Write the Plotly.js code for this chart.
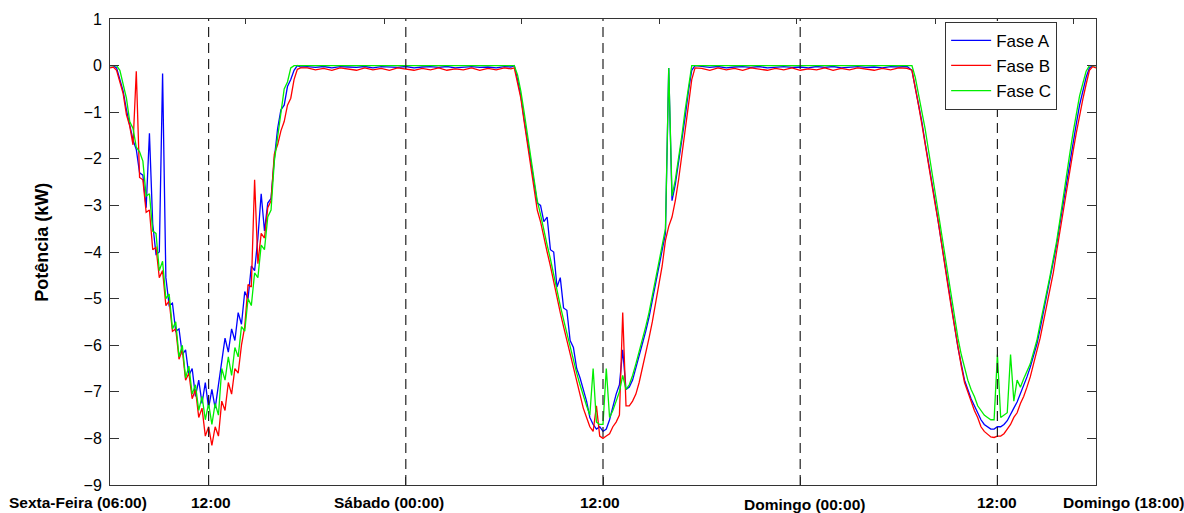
<!DOCTYPE html>
<html>
<head>
<meta charset="utf-8">
<script src="https://cdn.plot.ly/plotly-3.0.1.min.js"></script>
<style>html,body{margin:0;padding:0;background:#fff;}#chart{width:1184px;height:513px;}</style>
</head>
<body>
<div id="chart"></div>
<script>
// Hours since Friday 06:00
const hours = [
  // Friday daylight
  0.0,0.2,0.4,0.6,0.8,1.0,1.2,1.4,1.6,1.8,2.0,2.2,2.4,2.6,2.8,3.0,3.2,3.4,3.6,3.8,
  4.0,4.2,4.4,4.6,4.8,5.0,5.2,5.4,5.6,5.8,6.0,6.2,6.4,6.6,6.8,7.0,7.2,7.4,7.6,7.8,
  8.0,8.2,8.4,8.6,8.8,9.0,9.2,9.4,9.6,9.8,10.0,10.2,10.4,10.6,10.8,11.0,11.2,11.4,11.6,
  // Friday night
  12.0,12.5,13.0,13.5,14.0,14.5,15.0,15.5,16.0,16.5,17.0,17.5,18.0,18.5,19.0,19.5,
  20.0,20.5,21.0,21.5,22.0,22.5,23.0,23.5,24.0,24.4,
  // Saturday daylight
  24.6,24.8,25.0,25.2,25.4,25.6,25.8,26.0,26.2,26.4,26.6,26.8,27.0,27.2,27.4,27.6,27.8,
  28.0,28.2,28.4,28.6,28.8,29.0,29.2,29.4,29.6,29.8,30.0,30.2,30.4,30.6,30.8,31.0,31.2,
  31.4,31.6,31.8,32.0,32.2,32.4,32.6,32.8,33.0,33.2,33.4,33.6,33.8,34.0,34.2,34.4,34.6,
  34.8,35.0,35.2,35.4,35.6,
  // Saturday night
  36.0,36.5,37.0,37.5,38.0,38.5,39.0,39.5,40.0,40.5,41.0,41.5,42.0,42.5,43.0,43.5,
  44.0,44.5,45.0,45.5,46.0,46.5,47.0,47.5,48.0,48.5,
  // Sunday daylight
  48.8,49.0,49.2,49.4,49.6,49.8,50.0,50.2,50.4,50.6,50.8,51.0,51.2,51.4,51.6,51.8,52.0,
  52.2,52.4,52.6,52.8,53.0,53.2,53.4,53.6,53.8,54.0,54.2,54.4,54.6,54.8,55.0,55.2,55.4,
  55.6,55.8,56.0,56.2,56.4,56.6,56.8,57.0,57.2,57.4,57.6,57.8,58.0,58.2,58.4,58.6,58.8,
  59.0,59.2,59.4,59.6,59.8,60.0
];

const faseA = [
  0,0,-0.05,-0.3,-0.55,-0.95,-1.25,-1.6,-1.8,-2.3,-2.35,-3.05,-1.45,-3.4,-4.05,-4.0,-0.17,-4.55,-5.15,-5.1,
  -5.7,-5.65,-6.2,-6.1,-6.65,-6.5,-7.1,-6.75,-7.25,-6.8,-7.35,-6.95,-7.35,-6.85,-6.35,-5.85,-6.15,-5.65,-5.9,-5.3,
  -5.55,-4.85,-5.0,-4.3,-4.4,-3.7,-2.75,-3.55,-2.95,-2.85,-2.0,-1.35,-0.95,-0.85,-0.45,-0.3,-0.1,0,-0.03,
  -0.02,-0.04,-0.02,-0.05,-0.02,-0.03,-0.04,-0.02,-0.05,-0.02,-0.03,-0.04,-0.02,-0.05,-0.03,-0.02,
  -0.04,-0.02,-0.05,-0.03,-0.02,-0.04,-0.03,-0.05,-0.02,-0.03,
  0,-0.3,-0.65,-1.15,-1.6,-2.1,-2.6,-2.95,-3.0,-3.35,-3.25,-3.95,-4.0,-4.75,-4.55,-5.2,-5.25,
  -5.9,-6.05,-6.5,-6.7,-6.95,-7.2,-7.55,-7.7,-7.8,-7.75,-7.85,-7.8,-7.6,-7.3,-7.05,-6.85,-6.1,
  -6.95,-6.9,-6.75,-6.5,-6.25,-6.0,-5.7,-5.4,-5.05,-4.7,-4.3,-3.95,-3.6,-0.05,-2.9,-2.55,-2.1,
  -1.6,-1.1,-0.55,-0.1,0,
  -0.02,-0.04,-0.02,-0.05,-0.03,-0.02,-0.04,-0.02,-0.05,-0.03,-0.02,-0.04,-0.03,-0.05,-0.02,-0.04,
  -0.02,-0.05,-0.03,-0.02,-0.04,-0.03,-0.05,-0.02,-0.03,-0.02,
  -0.1,-0.45,-0.85,-1.2,-1.65,-2.05,-2.5,-2.9,-3.35,-3.8,-4.3,-4.7,-5.15,-5.6,-6.05,-6.4,-6.75,
  -6.95,-7.15,-7.3,-7.45,-7.6,-7.7,-7.75,-7.8,-7.8,-7.75,-7.75,-7.7,-7.62,-7.5,-7.35,-7.22,-7.05,
  -6.88,-6.68,-6.47,-6.22,-5.98,-5.65,-5.3,-4.95,-4.6,-4.25,-3.85,-3.4,-2.95,-2.5,-2.08,-1.65,-1.25,
  -0.85,-0.55,-0.25,-0.05,0,0
];

const faseB = [
  -0.05,-0.03,-0.1,-0.35,-0.6,-1.05,-1.3,-1.7,-0.12,-2.4,-2.45,-3.15,-3.1,-3.95,-3.9,-4.55,-4.4,-5.15,-5.05,-5.7,
  -5.65,-6.3,-6.1,-6.75,-6.6,-7.15,-6.95,-7.55,-7.35,-7.95,-7.75,-8.15,-7.75,-7.95,-7.2,-7.4,-6.8,-7.05,-6.5,-6.6,
  -6.0,-5.6,-4.7,-4.75,-2.45,-4.25,-3.6,-3.7,-3.05,-2.9,-1.9,-1.7,-1.4,-1.2,-0.85,-0.7,-0.3,-0.08,-0.05,
  -0.05,-0.09,-0.06,-0.1,-0.05,-0.08,-0.1,-0.05,-0.09,-0.06,-0.1,-0.05,-0.08,-0.1,-0.06,-0.09,
  -0.05,-0.1,-0.07,-0.09,-0.05,-0.1,-0.06,-0.09,-0.05,-0.07,
  -0.05,-0.35,-0.7,-1.2,-1.65,-2.15,-2.65,-3.1,-3.35,-3.7,-4.0,-4.3,-4.65,-4.95,-5.3,-5.6,-5.9,
  -6.15,-6.45,-6.8,-7.1,-7.35,-7.55,-7.75,-7.85,-7.3,-7.95,-8.0,-7.95,-7.9,-7.75,-7.65,-7.5,-5.3,
  -7.3,-7.3,-7.2,-7.05,-6.8,-6.5,-6.2,-5.85,-5.5,-5.1,-4.7,-4.3,-3.75,-3.45,-3.25,-2.9,-2.45,
  -1.95,-1.4,-0.85,-0.3,-0.05,
  -0.06,-0.1,-0.05,-0.09,-0.06,-0.1,-0.05,-0.08,-0.1,-0.06,-0.09,-0.05,-0.1,-0.07,-0.09,-0.05,
  -0.1,-0.06,-0.09,-0.05,-0.08,-0.1,-0.06,-0.09,-0.05,-0.06,
  -0.1,-0.45,-0.85,-1.25,-1.7,-2.1,-2.5,-2.95,-3.35,-3.85,-4.3,-4.75,-5.2,-5.65,-6.1,-6.45,-6.8,
  -7.0,-7.2,-7.4,-7.55,-7.75,-7.85,-7.92,-7.97,-7.98,-7.95,-7.95,-7.9,-7.8,-7.7,-7.55,-7.45,-7.25,
  -7.1,-6.9,-6.68,-6.4,-6.15,-5.85,-5.5,-5.15,-4.8,-4.45,-4.0,-3.55,-3.1,-2.65,-2.22,-1.85,-1.45,
  -1.05,-0.72,-0.4,-0.1,-0.02,-0.05
];

const faseC = [
  0,0,0,-0.1,-0.4,-0.7,-1.2,-1.35,-1.75,-1.85,-2.05,-2.8,-2.75,-3.55,-3.6,-4.4,-4.2,-5.0,-4.9,-5.65,
  -5.5,-6.25,-6.0,-6.7,-6.45,-7.05,-6.85,-7.4,-7.1,-7.6,-7.25,-7.7,-7.25,-7.5,-6.5,-6.75,-6.25,-6.65,-6.05,-6.25,
  -5.6,-5.7,-5.0,-5.15,-4.45,-4.55,-3.85,-3.95,-3.25,-3.1,-2.05,-1.5,-1.05,-0.5,-0.35,-0.05,0,0,0,
  0,0,0,0,0,0,0,0,0,0,0,0,0,0,0,0,
  0,0,0,0,0,0,0,0,0,0,
  0,-0.2,-0.55,-1.0,-1.45,-1.95,-2.45,-2.9,-3.2,-3.55,-3.85,-4.15,-4.5,-4.85,-5.15,-5.45,-5.75,
  -6.0,-6.3,-6.6,-6.85,-7.1,-7.3,-7.5,-6.5,-7.65,-7.7,-7.7,-6.5,-7.55,-7.4,-7.2,-7.0,-6.65,
  -6.95,-6.85,-6.65,-6.4,-6.15,-5.9,-5.6,-5.3,-4.95,-4.6,-4.2,-3.85,-3.5,-0.05,-2.8,-2.45,-2.0,
  -1.5,-0.95,-0.45,0,0,
  0,0,0,0,0,0,0,0,0,0,0,0,0,0,0,0,
  0,0,0,0,0,0,0,0,0,0,
  0,-0.25,-0.6,-0.95,-1.35,-1.8,-2.25,-2.75,-3.2,-3.65,-4.15,-4.55,-5.0,-5.4,-5.85,-6.2,-6.5,
  -6.75,-6.95,-7.1,-7.3,-7.4,-7.5,-7.55,-7.6,-7.6,-6.2,-7.55,-7.5,-7.45,-6.2,-7.2,-6.75,-6.9,
  -6.72,-6.55,-6.4,-6.15,-5.9,-5.55,-5.22,-4.85,-4.52,-4.15,-3.78,-3.32,-2.88,-2.4,-1.9,-1.45,-1.05,
  -0.65,-0.38,-0.12,0,0,0
];

const seriesNames = ['Fase A','Fase B','Fase C'];
const seriesColors = ['#0000ff','#ff0000','#00ee00'];

// x-axis labels
const labelHours = [0, 6, 18, 30, 42, 54, 60];
const labelTexts = ['Sexta-Feira (06:00)','12:00','Sábado (00:00)','12:00','Domingo (00:00)','12:00','Domingo (18:00)'];
const markerHours = [6, 18, 30, 42, 54];   // dashed reference lines
const topTickHours = [8.23, 16.70, 25.07, 33.45, 41.79, 50.26, 58.66];

const labelXShift = [-32, 2, -17, -3, 4, 0, 27];
const labelYShift = [-17, -17, -17, -17, -19, -17, -17];

const traces = [faseA, faseB, faseC].map((vals, i) => ({
  type: 'scatter', mode: 'lines', name: seriesNames[i],
  x: hours, y: vals,
  line: {color: seriesColors[i], width: 1.3}
}));
traces.push({type:'scatter', mode:'lines', x:[], y:[], xaxis:'x2', showlegend:false, hoverinfo:'skip'});

const shapes = markerHours.map(h => ({
  type:'line', xref:'x', yref:'paper', x0:h, x1:h, y0:0, y1:1,
  line:{color:'#222', width:1.2, dash:'10px,6px'}
}));

const annotations = labelHours.map((h, i) => ({
  x: h, xref: 'x', y: 0, yref: 'paper', text: '<b>' + labelTexts[i] + '</b>',
  showarrow: false, xanchor: 'center', yanchor: 'middle',
  xshift: labelXShift[i], yshift: labelYShift[i],
  font: {size: 15.5, color: '#000'}
}));
annotations.push({
  x: 0, xref: 'paper', xshift: -68, y: 0.52, yref: 'paper',
  text: '<b>Potência (kW)</b>', textangle: -90, showarrow: false,
  xanchor: 'center', yanchor: 'middle', font: {size: 18, color: '#000'}
});

const layout = {
  width: 1184, height: 513,
  margin: {l: 110, r: 88, t: 19, b: 28, pad: 0},
  paper_bgcolor: '#fff', plot_bgcolor: '#fff',
  font: {family: '"Liberation Sans", Arial, sans-serif', color: '#000', size: 16},
  showlegend: true,
  legend: {x: 0.847, y: 0.994, xanchor: 'left', yanchor: 'top',
           bordercolor: '#333', borderwidth: 1, bgcolor: '#fff',
           font: {size: 17, color: '#000'}, tracegroupgap: 0, itemwidth: 40},
  xaxis: {range: [0, 60], showgrid: false, zeroline: false, showline: true,
          linecolor: '#333', linewidth: 1, ticks: 'inside', ticklen: 8, tickcolor: '#333',
          tickvals: markerHours, showticklabels: false, fixedrange: true},
  xaxis2: {overlaying: 'x', side: 'top', anchor: 'y', range: [0, 60], showgrid: false,
           zeroline: false, showline: true, linecolor: '#333', linewidth: 1,
           ticks: 'inside', ticklen: 5, tickcolor: '#333', tickvals: topTickHours,
           showticklabels: false},
  yaxis: {range: [-9, 1], tick0: 0, dtick: 1, ticks: 'inside', ticklen: 9, tickcolor: '#333',
          showline: true, mirror: 'ticks', linecolor: '#333', linewidth: 1,
          showgrid: false, zeroline: false, tickfont: {size: 16, color: '#000'},
          ticklabelstandoff: 4},
  shapes: shapes,
  annotations: annotations
};

Plotly.newPlot('chart', traces, layout, {displayModeBar: false, staticPlot: true});
</script>
</body>
</html>
